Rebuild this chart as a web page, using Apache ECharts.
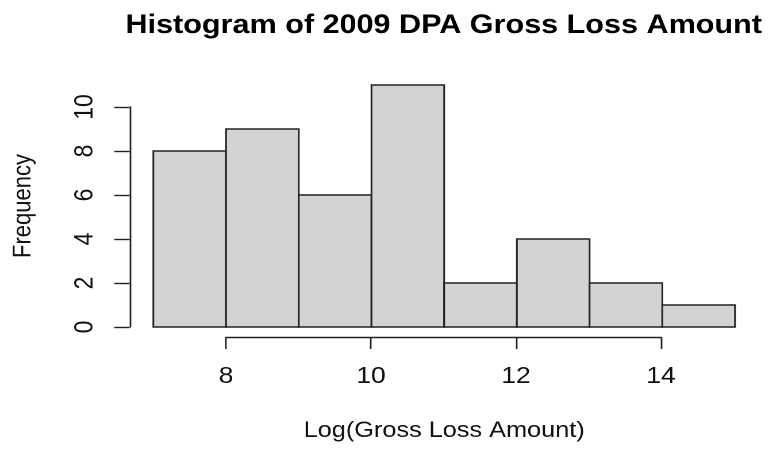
<!DOCTYPE html>
<html>
<head>
<meta charset="utf-8">
<script src="https://cdn.jsdelivr.net/npm/echarts@6/dist/echarts.min.js"></script>
<style>
  html, body { margin: 0; padding: 0; background: #fff; overflow: hidden; }
  /* the plot is laid out on a narrower canvas and widened horizontally */
  #chart { width: 669px; height: 449px; transform: scaleX(1.1495); transform-origin: 0 0; }
</style>
</head>
<body>
<div id="chart"></div>
<script>
// Histogram bins (log of gross loss amount) and their frequencies
const binEdges = [7, 8, 9, 10, 11, 12, 13, 14, 15];
const counts = [8, 9, 6, 11, 2, 4, 2, 1];
const xTickRange = [8, 14];
const xTickStep = 2;
const yTickRange = [0, 10];
const yTickStep = 2;
const titleText = 'Histogram of 2009 DPA Gross Loss Amount';
const xLabel = 'Log(Gross Loss Amount)';
const yLabel = 'Frequency';

const bins = counts.map((c, i) => [binEdges[i], binEdges[i + 1], c]);

const font = '"Liberation Sans", Arial, sans-serif';
const ink = '#111';
const lineCol = '#222';

const chart = echarts.init(document.getElementById('chart'), null, { renderer: 'canvas', devicePixelRatio: 2 });

chart.setOption({
  backgroundColor: '#fff',
  animation: false,
  title: {
    text: titleText,
    left: 381,
    textAlign: 'center',
    top: 7,
    textStyle: { fontFamily: font, fontWeight: 'bold', fontSize: 26.6, color: '#000' }
  },
  grid: [
    // bars
    { left: 133.4, right: 29.6, top: 85, bottom: 122 },
    // x axis (8 .. 14)
    { left: 196.6, right: 94, top: 85, bottom: 122 },
    // y axis (0 .. 10)
    { left: 133.4, right: 29.6, top: 107, bottom: 122 }
  ],
  xAxis: [
    {
      gridIndex: 0, type: 'value', min: binEdges[0], max: binEdges[binEdges.length - 1],
      axisLine: { show: false }, axisTick: { show: false }, axisLabel: { show: false }, splitLine: { show: false },
      name: xLabel, nameLocation: 'middle', nameGap: 93,
      nameTextStyle: { fontFamily: font, fontSize: 22, color: ink }
    },
    {
      gridIndex: 1, type: 'value', min: xTickRange[0], max: xTickRange[1], interval: xTickStep,
      offset: 10,
      axisLine: { show: true, onZero: false, lineStyle: { color: lineCol, width: 1.4 } },
      axisTick: { show: true, length: 12, lineStyle: { color: lineCol, width: 1.4 } },
      axisLabel: { margin: 28, fontFamily: font, fontSize: 23, color: ink },
      splitLine: { show: false }
    },
    {
      gridIndex: 2, type: 'value', min: binEdges[0], max: binEdges[binEdges.length - 1], show: false
    }
  ],
  yAxis: [
    {
      gridIndex: 0, type: 'value', min: 0, max: 11,
      axisLine: { show: false }, axisTick: { show: false }, axisLabel: { show: false }, splitLine: { show: false },
      name: yLabel, nameLocation: 'middle', nameGap: 102, nameRotate: 90,
      nameTextStyle: { fontFamily: font, fontSize: 22, color: ink }
    },
    {
      gridIndex: 1, type: 'value', min: 0, max: 11, show: false
    },
    {
      gridIndex: 2, type: 'value', min: yTickRange[0], max: yTickRange[1], interval: yTickStep,
      offset: 20.6,
      axisLine: { show: true, onZero: false, lineStyle: { color: lineCol, width: 1.4 } },
      axisTick: { show: true, length: 13.4, lineStyle: { color: lineCol, width: 1.4 } },
      axisLabel: { margin: 27, rotate: 90, fontFamily: font, fontSize: 23, color: ink },
      splitLine: { show: false }
    }
  ],
  series: [{
    type: 'custom',
    xAxisIndex: 0,
    yAxisIndex: 0,
    data: bins,
    encode: { x: [0, 1], y: 2 },
    renderItem: function (params, api) {
      const lo = api.coord([api.value(0), 0]);
      const hi = api.coord([api.value(1), api.value(2)]);
      return {
        type: 'rect',
        shape: { x: lo[0], y: hi[1], width: hi[0] - lo[0], height: lo[1] - hi[1] },
        style: { fill: '#d3d3d3', stroke: lineCol, lineWidth: 1.5 }
      };
    }
  }]
});
</script>
</body>
</html>
